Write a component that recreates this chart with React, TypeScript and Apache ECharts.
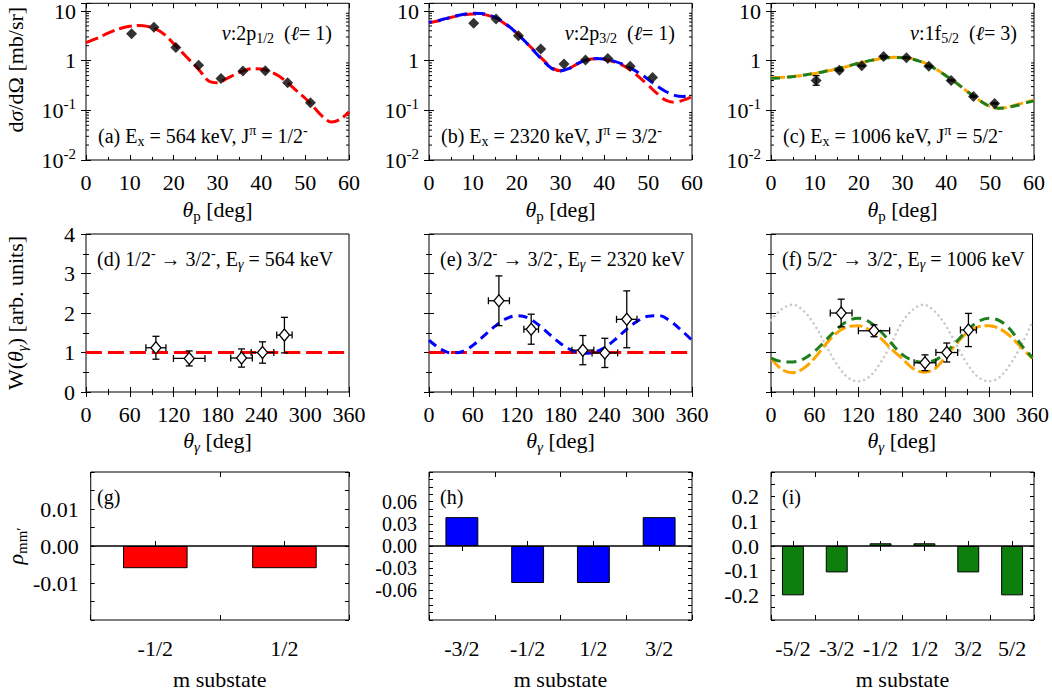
import React, { useEffect, useRef } from 'react';
import * as echarts from 'echarts';

const FONT = "'Liberation Serif', 'DejaVu Serif', serif";

// ---------- layout ----------
const colLeft = [86, 429, 771];
const colW = 263;
const rowTop = [3, 234, 472];
const rowH = [157, 158, 158];

// ---------- top row: differential cross sections ----------
const thetaP = [0, 2, 4, 6, 8, 10, 12, 14, 16, 18, 20, 22, 24, 26, 28, 30, 32, 34, 36, 38, 40, 42, 44, 46, 48, 50, 52, 54, 56, 58, 60];
const dwbaA = [2.3, 2.7, 3.25, 3.9, 4.5, 4.95, 5.1, 4.9, 4.3, 3.3, 2.2, 1.45, 0.95, 0.62, 0.39, 0.36, 0.43, 0.53, 0.63, 0.69, 0.68, 0.6, 0.49, 0.36, 0.25, 0.175, 0.115, 0.075, 0.058, 0.066, 0.093];
const dwbaBRed = [5.8, 6.3, 7.0, 7.8, 8.4, 8.7, 8.6, 7.9, 6.6, 5.0, 3.6, 2.4, 1.6, 1.05, 0.72, 0.63, 0.7, 0.88, 1.03, 1.09, 1.06, 0.96, 0.82, 0.64, 0.46, 0.32, 0.22, 0.16, 0.145, 0.16, 0.19];
const dwbaBBlue = [5.9, 6.4, 7.1, 7.9, 8.6, 9.0, 8.9, 8.1, 6.8, 5.1, 3.6, 2.4, 1.55, 1.0, 0.7, 0.62, 0.7, 0.88, 1.04, 1.1, 1.08, 0.99, 0.86, 0.71, 0.56, 0.42, 0.31, 0.24, 0.2, 0.19, 0.2];
const dwbaCOrange = [0.45, 0.46, 0.47, 0.49, 0.52, 0.55, 0.6, 0.65, 0.71, 0.79, 0.88, 0.97, 1.06, 1.13, 1.17, 1.16, 1.1, 0.98, 0.82, 0.65, 0.49, 0.37, 0.27, 0.2, 0.15, 0.12, 0.11, 0.115, 0.13, 0.145, 0.16];
const dwbaCGreen = [0.44, 0.45, 0.47, 0.49, 0.52, 0.56, 0.6, 0.66, 0.72, 0.8, 0.89, 0.98, 1.07, 1.13, 1.16, 1.15, 1.09, 0.97, 0.81, 0.64, 0.49, 0.37, 0.27, 0.2, 0.15, 0.12, 0.11, 0.115, 0.125, 0.14, 0.155];

const angA = [10.4, 15.5, 20.5, 25.7, 30.8, 35.8, 40.9, 46.0, 51.2];
const xsA = [3.47, 4.71, 1.85, 0.81, 0.44, 0.62, 0.63, 0.36, 0.142];
const angB = [10.2, 15.3, 20.4, 25.5, 30.8, 35.7, 40.8, 45.9, 51.0];
const xsB = [5.67, 6.9, 3.16, 1.71, 0.86, 1.03, 1.1, 0.77, 0.46];
const angC = [10.3, 15.6, 20.7, 25.7, 30.9, 36.0, 41.1, 46.2, 51.0];
const xsC = [0.40, 0.64, 0.79, 1.22, 1.15, 0.77, 0.40, 0.19, 0.138];
const xsCLow = [0.32, 0.62, 0.77, 1.19, 1.12, 0.75, 0.39, 0.185, 0.134];
const xsCHigh = [0.50, 0.66, 0.81, 1.25, 1.18, 0.79, 0.41, 0.195, 0.142];

const logMinorTicks = [0.02, 0.03, 0.04, 0.05, 0.06, 0.07, 0.08, 0.09, 0.2, 0.3, 0.4, 0.5, 0.6, 0.7, 0.8, 0.9, 2, 3, 4, 5, 6, 7, 8, 9];

// ---------- middle row: angular correlations ----------
const thetaG = [0, 15, 30, 45, 60, 75, 90, 105, 120, 135, 150, 165, 180, 195, 210, 225, 240, 255, 270, 285, 300, 315, 330, 345, 360];
const isoX = [0, 360];
const isoY = [1, 1];
const wE = [1.31, 1.1, 0.99, 1.02, 1.18, 1.42, 1.66, 1.85, 1.93, 1.88, 1.7, 1.46, 1.23, 1.06, 0.98, 1.0, 1.12, 1.33, 1.58, 1.79, 1.92, 1.93, 1.8, 1.57, 1.31];
const wFOrange = [0.85, 0.57, 0.49, 0.6, 0.86, 1.2, 1.49, 1.65, 1.68, 1.58, 1.38, 1.1, 0.86, 0.6, 0.5, 0.58, 0.88, 1.22, 1.5, 1.65, 1.68, 1.6, 1.4, 1.12, 0.85];
const wFGreen = [0.86, 0.77, 0.76, 0.84, 1.03, 1.3, 1.58, 1.79, 1.87, 1.78, 1.55, 1.25, 0.96, 0.8, 0.75, 0.8, 0.99, 1.27, 1.56, 1.78, 1.87, 1.8, 1.57, 1.18, 0.87];
const wFGray = [1.82, 2.1, 2.21, 2.05, 1.7, 1.2, 0.72, 0.38, 0.27, 0.38, 0.72, 1.2, 1.75, 2.08, 2.21, 2.05, 1.7, 1.2, 0.72, 0.38, 0.27, 0.38, 0.72, 1.2, 1.78];

const angD = [95.7, 141.3, 212.9, 241.6, 271.6];
const wD = [1.12, 0.85, 0.86, 1.0, 1.44];
const angDErr = [13.7, 21.6, 14.8, 15.5, 10.5];
const wDErr = [0.29, 0.19, 0.23, 0.27, 0.45];
const angE = [95.7, 139.9, 210.6, 240.7, 270.7];
const wEpts = [2.31, 1.59, 1.06, 0.99, 1.84];
const angEErr = [14.4, 10, 15, 17.5, 14];
const wEErr = [0.63, 0.38, 0.37, 0.37, 0.72];
const angF = [96.6, 141.8, 212, 242, 271.8];
const wFpts = [2.0, 1.55, 0.74, 1.0, 1.57];
const angFErr = [15, 21.5, 15, 15, 11];
const wFErr = [0.35, 0.15, 0.2, 0.24, 0.42];

// ---------- bottom row: density matrices ----------
const mStatesG = ['-1/2', '1/2'];
const rhoG = [-0.006, -0.006];
const mStatesH = ['-3/2', '-1/2', '1/2', '3/2'];
const rhoH = [0.039, -0.05, -0.05, 0.039];
const mStatesI = ['-5/2', '-3/2', '-1/2', '1/2', '3/2', '5/2'];
const rhoI = [-0.2, -0.107, 0.011, 0.011, -0.107, -0.2];
const rhoLabelsG = [-0.01, 0, 0.01];
const rhoLabelsH = [-0.06, -0.03, 0, 0.03, 0.06];
const rhoLabelsI = [-0.2, -0.1, 0, 0.1, 0.2];

// ---------- styles ----------
const AX = 22; // axis labels / names
const AN = 20; // in-panel annotations
const TS = (size: number, lh: number, extra: any = {}) => ({ fontFamily: FONT, fontSize: size, color: '#000', fill: '#000', lineHeight: lh, ...extra });
const makeRich = (s: number) => {
  const lh = Math.round(s * 1.25);
  const ss = Math.round(s * 0.7);
  return {
    n: TS(s, lh),
    i: TS(s, lh, { fontStyle: 'italic' }),
    sub: TS(ss, ss + 1, { verticalAlign: 'bottom' }),
    isub: TS(ss, ss + 1, { fontStyle: 'italic', verticalAlign: 'bottom' }),
    sup: TS(ss, ss + 1, { verticalAlign: 'top' }),
  };
};
const RICH_AX: any = makeRich(AX);
const RICH_AN: any = makeRich(AN);

const tickCfg = (extra: any = {}) => ({ show: true, inside: true, length: 5, lineStyle: { color: '#000', width: 1 }, ...extra });
const minorCfg = (split: number) => ({ show: true, splitNumber: split, length: 3, lineStyle: { color: '#000', width: 1 } });
const labelCfg = (extra: any = {}) => ({ show: true, color: '#000', fontFamily: FONT, fontSize: AX, margin: 11, rich: RICH_AX, ...extra });
const nameStyle = (extra: any = {}) => ({ fontFamily: FONT, fontSize: AX, color: '#000', lineHeight: 27, rich: RICH_AX, ...extra });

const zip = (xs: number[], ys: number[]) => xs.map((x, i) => [x, ys[i]]);

function logLabel(v: number) {
  const l = Math.log10(v);
  const e = Math.round(l);
  if (Math.abs(l - e) > 1e-6) return '';
  if (e === 0) return '{n|1}';
  if (e === 1) return '{n|10}';
  return `{n|10}{sup|${e}}`;
}

function rhoFormatter(labels: number[], digits: number) {
  return (v: number) => (labels.some((l) => Math.abs(l - v) < 1e-9) ? (Math.abs(v) < 1e-9 ? (0).toFixed(digits) : v.toFixed(digits)) : '');
}

function errorBarItem(_params: any, api: any) {
  const x = api.value(0), y = api.value(1);
  const xl = api.value(2), xh = api.value(3), yl = api.value(4), yh = api.value(5);
  const st = { stroke: '#000', lineWidth: 1.3 };
  const cap = 3.5;
  const kids: any[] = [];
  if (xh > xl) {
    const a = api.coord([xl, y]);
    const b = api.coord([xh, y]);
    kids.push({ type: 'line', shape: { x1: a[0], y1: a[1], x2: b[0], y2: b[1] }, style: st });
    kids.push({ type: 'line', shape: { x1: a[0], y1: a[1] - cap, x2: a[0], y2: a[1] + cap }, style: st });
    kids.push({ type: 'line', shape: { x1: b[0], y1: b[1] - cap, x2: b[0], y2: b[1] + cap }, style: st });
  }
  if (yh > yl) {
    const a = api.coord([x, yl]);
    const b = api.coord([x, yh]);
    kids.push({ type: 'line', shape: { x1: a[0], y1: a[1], x2: b[0], y2: b[1] }, style: st });
    kids.push({ type: 'line', shape: { x1: a[0] - cap, y1: a[1], x2: a[0] + cap, y2: a[1] }, style: st });
    kids.push({ type: 'line', shape: { x1: b[0] - cap, y1: b[1], x2: b[0] + cap, y2: b[1] }, style: st });
  }
  return { type: 'group', children: kids };
}

function logMinorItem(params: any, api: any) {
  const cs = params.coordSys;
  const y = api.coord([0, api.value(1)])[1];
  const st = { stroke: '#000', lineWidth: 1 };
  return {
    type: 'group',
    children: [
      { type: 'line', shape: { x1: cs.x, y1: y, x2: cs.x + 3, y2: y }, style: st },
      { type: 'line', shape: { x1: cs.x + cs.width - 3, y1: y, x2: cs.x + cs.width, y2: y }, style: st },
    ],
  };
}

function buildOption() {
  const grid: any[] = [];
  const xAxis: any[] = [];
  const yAxis: any[] = [];
  const series: any[] = [];
  const graphic: any[] = [];

  const addGrid = (r: number, c: number) => {
    grid.push({ left: colLeft[c], top: rowTop[r], width: colW, height: rowH[r], show: true, borderColor: '#000', borderWidth: 1, backgroundColor: 'transparent' });
    return grid.length - 1;
  };
  const axisPair = (list: any[], gridIndex: number, mainPos: string, mirrorPos: string, cfg: any, label: any, name: any = {}) => {
    const common = { gridIndex, axisLine: { show: false }, splitLine: { show: false }, ...cfg };
    list.push({ ...common, position: mainPos, axisLabel: label || { show: false }, ...name });
    list.push({ ...common, position: mirrorPos, axisLabel: { show: false } });
    return list.length - 2;
  };
  const line = (xi: number, yi: number, data: any[], color: string, dash: any, extra: any = {}) => ({
    type: 'line', xAxisIndex: xi, yAxisIndex: yi, data, smooth: 0.35, showSymbol: false, symbol: 'none', silent: true,
    lineStyle: { color, width: 3, type: dash, ...extra }, z: 2,
  });
  const text = (x: number, y: number, t: string, align = 'left') => ({
    type: 'text', x, y, z: 100, silent: true,
    style: { text: t, rich: RICH_AN, fill: '#000', fontFamily: FONT, fontSize: AN, align, verticalAlign: 'middle' },
  });

  // ===== top row =====
  const nuTexts = [
    '{i|ν}{n|:2p}{sub|1/2}{n|  (}{i|ℓ}{n|= 1)}',
    '{i|ν}{n|:2p}{sub|3/2}{n|  (}{i|ℓ}{n|= 1)}',
    '{i|ν}{n|:1f}{sub|5/2}{n|  (}{i|ℓ}{n|= 3)}',
  ];
  const exTexts = [
    '{n|(a) E}{sub|x}{n| = 564 keV, J}{sup|π}{n| = 1/2}{sup|-}',
    '{n|(b) E}{sub|x}{n| = 2320 keV, J}{sup|π}{n| = 3/2}{sup|-}',
    '{n|(c) E}{sub|x}{n| = 1006 keV, J}{sup|π}{n| = 5/2}{sup|-}',
  ];
  for (let c = 0; c < 3; c++) {
    const g = addGrid(0, c);
    const xi = axisPair(xAxis, g, 'bottom', 'top',
      { type: 'value', min: 0, max: 60, interval: 10, axisTick: tickCfg(), minorTick: minorCfg(2) },
      labelCfg(),
      { name: '{i|θ}{sub|p}{n| [deg]}', nameLocation: 'middle', nameGap: 35, nameTextStyle: nameStyle() });
    const yi = axisPair(yAxis, g, 'left', 'right',
      { type: 'log', logBase: 10, min: 0.01, max: 14.3, axisTick: tickCfg() },
      labelCfg({ formatter: logLabel, margin: 10 }),
      c === 0 ? { name: '{n|d}{i|σ}{n|/dΩ [mb/sr]}', nameLocation: 'middle', nameGap: 57, nameTextStyle: nameStyle({ padding: [0, 0, 0, 24] }) } : {});
    series.push({ type: 'custom', xAxisIndex: xi, yAxisIndex: yi, silent: true, renderItem: logMinorItem, data: logMinorTicks.map((v) => [0, v]), z: 1 });
    if (c === 0) {
      series.push(line(xi, yi, zip(thetaP, dwbaA), '#ff0000', [13, 5]));
      series.push({ type: 'scatter', xAxisIndex: xi, yAxisIndex: yi, data: zip(angA, xsA), symbol: 'diamond', symbolSize: 11, itemStyle: { color: '#000' }, z: 5, silent: true });
    } else if (c === 1) {
      series.push(line(xi, yi, zip(thetaP, dwbaBRed), '#ff0000', [12, 6]));
      series.push(line(xi, yi, zip(thetaP, dwbaBBlue), '#0000ff', [12, 6], { dashOffset: 9 }));
      series.push({ type: 'scatter', xAxisIndex: xi, yAxisIndex: yi, data: zip(angB, xsB), symbol: 'diamond', symbolSize: 11, itemStyle: { color: '#000' }, z: 5, silent: true });
    } else {
      series.push(line(xi, yi, zip(thetaP, dwbaCOrange), '#ffa500', [14, 3]));
      series.push(line(xi, yi, zip(thetaP, dwbaCGreen), '#1f7f1f', [9, 7]));
      series.push({ type: 'custom', xAxisIndex: xi, yAxisIndex: yi, silent: true, renderItem: errorBarItem, z: 4,
        data: angC.map((x, i) => [x, xsC[i], x, x, xsCLow[i], xsCHigh[i]]) });
      series.push({ type: 'scatter', xAxisIndex: xi, yAxisIndex: yi, data: zip(angC, xsC), symbol: 'diamond', symbolSize: 11, itemStyle: { color: '#000' }, z: 5, silent: true });
    }
    graphic.push(text(colLeft[c] + colW - 17, rowTop[0] + 30, nuTexts[c], 'right'));
    graphic.push(text(colLeft[c] + 12, rowTop[0] + 133, exTexts[c], 'left'));
  }

  // ===== middle row =====
  const trTexts = [
    '{n|(d) 1/2}{sup|-}{n| → 3/2}{sup|-}{n|, E}{isub|γ}{n| = 564 keV}',
    '{n|(e) 3/2}{sup|-}{n| → 3/2}{sup|-}{n|, E}{isub|γ}{n| = 2320 keV}',
    '{n|(f) 5/2}{sup|-}{n| → 3/2}{sup|-}{n|, E}{isub|γ}{n| = 1006 keV}',
  ];
  const ptsSets = [
    [angD, wD, angDErr, wDErr],
    [angE, wEpts, angEErr, wEErr],
    [angF, wFpts, angFErr, wFErr],
  ];
  for (let c = 0; c < 3; c++) {
    const g = addGrid(1, c);
    const xi = axisPair(xAxis, g, 'bottom', 'top',
      { type: 'value', min: 0, max: 360, interval: 60, axisTick: tickCfg(), minorTick: minorCfg(2) },
      labelCfg(),
      { name: '{i|θ}{isub|γ}{n| [deg]}', nameLocation: 'middle', nameGap: 34, nameTextStyle: nameStyle() });
    const yi = axisPair(yAxis, g, 'left', 'right',
      { type: 'value', min: 0, max: 4, interval: 1, axisTick: tickCfg(), minorTick: minorCfg(2) },
      c === 0 ? labelCfg({ margin: 11 }) : null,
      c === 0 ? { name: '{n|W(}{i|θ}{isub|γ}{n|) [arb. units]}', nameLocation: 'middle', nameGap: 57, nameTextStyle: nameStyle() } : {});
    if (c === 0) {
      series.push(line(xi, yi, zip(isoX, isoY), '#ff0000', [16, 6]));
    } else if (c === 1) {
      series.push(line(xi, yi, zip(isoX, isoY), '#ff0000', [16, 6]));
      series.push(line(xi, yi, zip(thetaG, wE), '#0000ff', [9, 6]));
    } else {
      series.push(line(xi, yi, zip(thetaG, wFGray), '#c8c8c8', [0.1, 5], { width: 2.5, cap: 'round' }));
      series.push(line(xi, yi, zip(thetaG, wFOrange), '#ffa500', [13, 4]));
      series.push(line(xi, yi, zip(thetaG, wFGreen), '#1f7f1f', [10, 6]));
    }
    const [ax, wy, axe, wye] = ptsSets[c];
    series.push({ type: 'custom', xAxisIndex: xi, yAxisIndex: yi, silent: true, renderItem: errorBarItem, z: 4,
      data: ax.map((x, i) => [x, wy[i], x - axe[i], x + axe[i], wy[i] - wye[i], wy[i] + wye[i]]) });
    series.push({ type: 'scatter', xAxisIndex: xi, yAxisIndex: yi, data: zip(ax, wy), symbol: 'diamond', symbolSize: [10, 12],
      itemStyle: { color: '#ffffff', borderColor: '#000', borderWidth: 1.3, opacity: 1 }, z: 5, silent: true });
    graphic.push(text(colLeft[c] + 11, rowTop[1] + 25, trTexts[c], 'left'));
  }

  // ===== bottom row =====
  const barSets: any[] = [
    { cats: mStatesG, vals: rhoG, color: '#ff0000', min: -0.02, max: 0.02, interval: 0.005, labels: rhoLabelsG, digits: 2, tag: '(g)', fs: AX },
    { cats: mStatesH, vals: rhoH, color: '#0000ff', min: -0.1, max: 0.1, interval: 0.01, labels: rhoLabelsH, digits: 2, tag: '(h)', fs: 20 },
    { cats: mStatesI, vals: rhoI, color: '#0d7f0d', min: -0.3, max: 0.3, interval: 0.05, labels: rhoLabelsI, digits: 1, tag: '(i)', fs: AX },
  ];
  for (let c = 0; c < 3; c++) {
    const b = barSets[c];
    const g = addGrid(2, c);
    const xi = axisPair(xAxis, g, 'bottom', 'top',
      { type: 'category', data: b.cats, boundaryGap: true, axisTick: tickCfg({ alignWithLabel: true, interval: 0 }) },
      labelCfg({ interval: 0, margin: 17 }),
      { name: '{n|m substate}', nameLocation: 'middle', nameGap: 45, nameTextStyle: nameStyle() });
    axisPair(xAxis, g, 'bottom', 'top',
      { type: 'category', data: b.cats, boundaryGap: true, axisTick: tickCfg({ alignWithLabel: false, interval: 0 }) },
      null);
    const yi = axisPair(yAxis, g, 'left', 'right',
      { type: 'value', min: b.min, max: b.max, interval: b.interval, axisTick: tickCfg({ length: 4 }) },
      { show: true, color: '#000', fontFamily: FONT, fontSize: b.fs, lineHeight: 17, margin: 12, formatter: rhoFormatter(b.labels, b.digits) },
      c === 0 ? { name: '{i|ρ}{sub|mm′}', nameLocation: 'middle', nameGap: 58, nameTextStyle: nameStyle() } : {});
    series.push({
      type: 'bar', xAxisIndex: xi, yAxisIndex: yi, data: b.vals, barWidth: '50%', silent: true,
      itemStyle: { color: b.color, borderColor: '#000', borderWidth: 1 }, z: 2,
      markLine: { silent: true, symbol: 'none', label: { show: false }, data: [{ yAxis: 0 }], lineStyle: { color: '#000', type: 'solid', width: 1.5 } },
    });
    graphic.push(text(colLeft[c] + 11, rowTop[2] + 25, `{n|${b.tag}}`, 'left'));
  }

  return {
    animation: false,
    backgroundColor: '#ffffff',
    textStyle: { fontFamily: FONT },
    grid, xAxis, yAxis, series, graphic,
  };
}

export default function App() {
  const ref = useRef<HTMLDivElement>(null);
  useEffect(() => {
    document.body.style.margin = '0';
    const chart = echarts.init(ref.current as HTMLDivElement, null, { renderer: 'svg' });
    chart.setOption(buildOption() as any);
    return () => chart.dispose();
  }, []);
  return <div ref={ref} style={{ width: 1052, height: 694 }} />;
}
